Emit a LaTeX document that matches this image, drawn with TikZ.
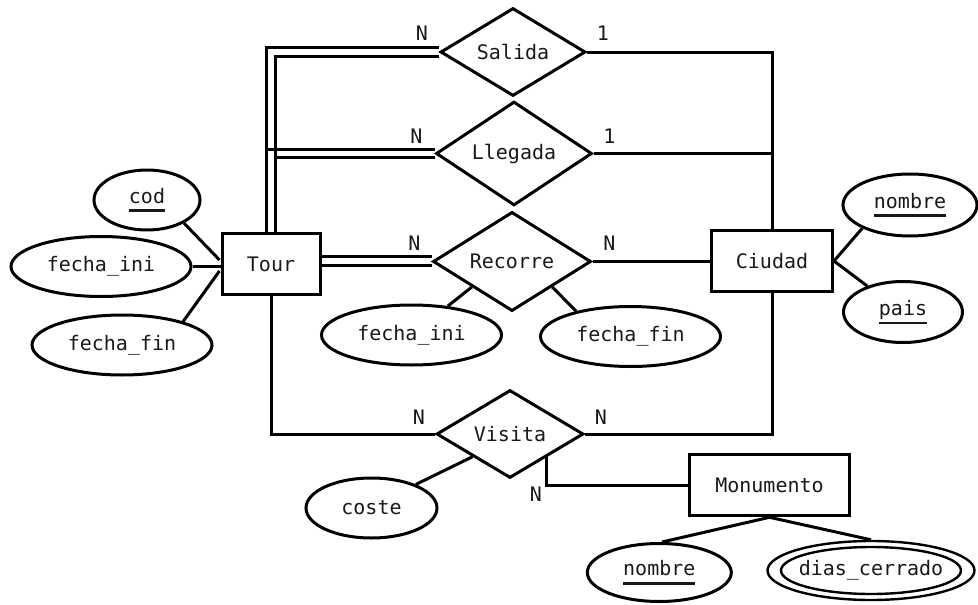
\documentclass[tikz,border=0pt]{standalone}
\usepackage{fontspec}
\newfontfamily\erfont{DejaVu Sans Mono}
\usetikzlibrary{shapes.geometric,calc}
\newcommand\ulin[1]{\setbox0=\hbox{#1}\rlap{\rule[-9pt]{\wd0}{2.6pt}}\box0}
\begin{document}
\begin{tikzpicture}[x=1pt,y=-1pt,line width=3pt,
  every node/.style={font=\erfont\fontsize{20}{24}\selectfont,text=black!90},
  entity/.style={draw,rectangle,inner sep=0pt,minimum height=61pt},
  rel/.style={draw,diamond,inner sep=0pt},
  attr/.style={draw,ellipse,inner sep=0pt,minimum height=60pt},
  card/.style={inner sep=0pt}]
\useasboundingbox[fill=white] (0,0) rectangle (978,605);
% entities
\node[entity,minimum width=98pt] (tour) at (271,264) {Tour};
\node[entity,minimum width=121pt] (ciudad) at (772,261) {Ciudad};
\node[entity,minimum width=160pt] (monu) at (769.5,485.3) {Monumento};
% relationships
\node[rel,minimum width=145pt,minimum height=88pt] (salida) at (513,52) {Salida};
\node[rel,minimum width=156pt,minimum height=94pt] (llegada) at (514,153.5) {Llegada};
\node[rel,minimum width=158pt,minimum height=95pt] (recorre) at (512,261.5) {Recorre};
\node[rel,minimum width=147pt,minimum height=88pt] (visita) at (510,434) {Visita};
% attributes
\node[attr,minimum width=106pt] (cod) at (147,200) {\ulin{cod}};
\node[attr,minimum width=180pt] (tfini) at (101,266.5) {fecha\_ini};
\node[attr,minimum width=180pt] (tffin) at (122,345) {fecha\_fin};
\node[attr,minimum width=180pt] (rfini) at (411.5,335) {fecha\_ini};
\node[attr,minimum width=180pt] (rffin) at (630.5,336.5) {fecha\_fin};
\node[attr,minimum width=134pt,minimum height=62pt] (cnom) at (910,205) {\ulin{nombre}};
\node[attr,minimum width=119pt,minimum height=61pt] (pais) at (903,312) {\ulin{pais}};
\node[attr,minimum width=131pt] (coste) at (371.5,508) {coste};
\node[attr,minimum width=144pt,minimum height=58pt] (mnom) at (659.3,572.5) {\ulin{nombre}};
\node[attr,line width=2.4pt,minimum width=207pt,minimum height=59pt] (dias) at (871,570.5) {dias\_cerrado};
\node[attr,line width=2.4pt,minimum width=180pt,minimum height=47pt] (diasin) at (dias.center) {};
% Tour - Salida (double)
\draw ($(tour.north)+(-4.5,0)$) |- ($(salida.west)+(0,-5)$);
\draw ($(tour.north)+(4.5,0)$) |- ($(salida.west)+(0,4)$);
% Tour - Llegada (double)
\draw ($(tour.north |- llegada.west)+(-4.5,-4.5)$) -- ($(llegada.west)+(0,-4.5)$);
\draw ($(tour.north |- llegada.west)+(4.5,3.5)$) -- ($(llegada.west)+(0,3.5)$);
% Tour - Recorre (double)
\draw ($(tour.east |- recorre.west)+(0,-5.5)$) -- ($(recorre.west)+(0,-5.5)$);
\draw ($(tour.east |- recorre.west)+(0,3.5)$) -- ($(recorre.west)+(0,3.5)$);
% Tour - Visita
\draw (tour.south) |- (visita.west);
% to Ciudad
\draw (salida.east) -| (ciudad.north);
\draw (llegada.east) -- (llegada.east -| ciudad.north);
\draw (recorre.east) -- (recorre.east -| ciudad.west);
\draw (visita.east) -| (ciudad.south);
% Visita - Monumento
\coordinate (vm) at ($(visita.south)!0.493!(visita.east)$);
\draw (vm) |- (monu.west);
% attribute links
\draw (cod.-32) -- ($(tour.west)+(-1,-4)$);
\draw (tfini.east) -- (tfini.east -| tour.west);
\draw (tffin.21) -- ($(tour.west)+(-1,7)$);
\draw ($(recorre.west)!0.5!(recorre.south)$) -- (rfini);
\draw ($(recorre.south)!0.5!(recorre.east)$) -- (rffin.155);
\draw ($(visita.west)!0.5!(visita.south)$) -- (coste.28);
\draw (ciudad.east) -- (cnom.206);
\draw (ciudad.east) -- (pais.144);
\draw (monu.south) -- (mnom.85);
\draw (monu.south) -- (dias.north);
% cardinalities
\node[card] (c1) at ($(salida.west)+(-17,-19)$) {N};
\node[card] (c2) at ($(salida.east)+(16,-19)$) {1};
\node[card] (c3) at ($(llegada.west)+(-18,-17)$) {N};
\node[card] (c4) at ($(llegada.east)+(16,-17)$) {1};
\node[card] (c5) at ($(recorre.west)+(-17,-18)$) {N};
\node[card] (c6) at ($(recorre.east)+(17,-18)$) {N};
\node[card] (c7) at ($(visita.west)+(-16,-17)$) {N};
\node[card] (c8) at ($(visita.east)+(16,-17)$) {N};
\node[card] (c9) at ($(vm)+(-11,37)$) {N};
\end{tikzpicture}
\end{document}
